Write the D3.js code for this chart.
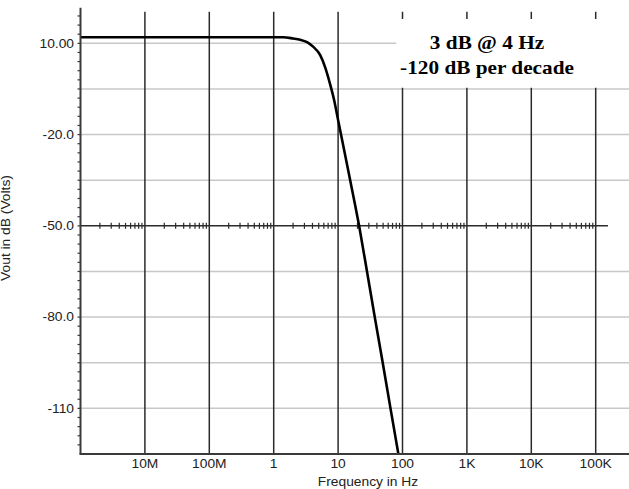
<!DOCTYPE html>
<html>
<head>
<meta charset="utf-8">
<script src="https://cdn.jsdelivr.net/npm/d3@7"></script>
<style>
  body { margin: 0; background: #fff; }
  text { font-family: "Liberation Sans", Arial, sans-serif; }
</style>
</head>
<body>
<div id="chart"></div>
<script>
// response curve: frequency (Hz) and Vout (dB)
const freqHz = [0.001, 1, 1.4, 2.0, 2.57, 3.3, 4.09, 5.25, 6.28, 7.51, 8.67, 10.0, 11.1, 15.4, 21.2, 28.1, 37.1, 49.3, 65.1, 86.3];
const voutDb = [12, 12, 12, 11.6, 11.2, 10.4, 8.9, 6.2, 2.2, -3.4, -8.6, -15.2, -20, -35, -50, -65, -80, -95, -110, -125];

// axis ticks and labels
const decadeTicks = [0.01, 0.1, 1, 10, 100, 1000, 10000, 100000];
const decadeLabels = ['10M', '100M', '1', '10', '100', '1K', '10K', '100K'];
const gridDb = [10, -5, -20, -35, -50, -65, -80, -95, -110];
const labelDb = [10, -20, -50, -80, -110];
const labelText = ['10.00', '-20.0', '-50.0', '-80.0', '-110'];
const refDb = -50;
const annotation = ['3 dB @ 4 Hz', '-120 dB per decade'];

const width = 629, height = 489;
const sx = 1.15; // the picture's text is a bit wide

// x is log frequency, y is dB
const x = d3.scaleLog().domain([0.001, 100000]).range([80.5, 595.7]);
const y = d3.scaleLinear().domain([-125, 20.4]).range([454, 11.7]);

const svg = d3.select('#chart').append('svg')
    .attr('width', width)
    .attr('height', height);

// light horizontal grid
svg.append('g').selectAll('line')
    .data(gridDb.filter(d => d !== refDb))
    .join('line')
    .attr('x1', x(0.001)).attr('x2', width)
    .attr('y1', d => y(d)).attr('y2', d => y(d))
    .attr('stroke', '#c8c8c8')
    .attr('stroke-width', 1.5);

// dark vertical decade lines
svg.append('g').selectAll('line')
    .data(decadeTicks)
    .join('line')
    .attr('x1', d => x(d)).attr('x2', d => x(d))
    .attr('y1', y(20.4)).attr('y2', y(-125))
    .attr('stroke', '#2b2b2b')
    .attr('stroke-width', 1.5);

// -50 dB reference line with log minor ticks
const refEnd = 155000;
svg.append('line')
    .attr('x1', x(0.001)).attr('x2', x(refEnd))
    .attr('y1', y(refDb)).attr('y2', y(refDb))
    .attr('stroke', '#2b2b2b')
    .attr('stroke-width', 1.5);

const minor = [];
d3.range(-3, 6).forEach(p => d3.range(2, 10).forEach(m => {
    const f = m * Math.pow(10, p);
    if (f < refEnd) minor.push(f);
}));
svg.append('g').selectAll('line')
    .data(minor)
    .join('line')
    .attr('x1', d => x(d)).attr('x2', d => x(d))
    .attr('y1', y(refDb) - 3).attr('y2', y(refDb) + 3)
    .attr('stroke', '#2b2b2b')
    .attr('stroke-width', 1.2);

// the response curve
svg.append('clipPath').attr('id', 'plot')
    .append('rect')
    .attr('x', x(0.001)).attr('y', y(20.4))
    .attr('width', width - x(0.001)).attr('height', y(-125) - y(20.4));

svg.append('path')
    .datum(freqHz.map((f, i) => [f, voutDb[i]]))
    .attr('clip-path', 'url(#plot)')
    .attr('fill', 'none')
    .attr('stroke', '#000')
    .attr('stroke-width', 2.6)
    .attr('stroke-linejoin', 'round')
    .attr('d', d3.line()
        .x(d => x(d[0]))
        .y(d => y(d[1]))
        .curve(d3.curveMonotoneX));

// white box behind the annotation
svg.append('rect')
    .attr('x', x(80)).attr('y', y(18))
    .attr('width', width - x(80))
    .attr('height', y(-4.6) - y(18))
    .attr('fill', '#fff');

svg.append('g').selectAll('text')
    .data(annotation)
    .join('text')
    .attr('transform', (d, i) => `translate(487, ${48.5 + i * 25}) scale(${sx},1)`)
    .attr('text-anchor', 'middle')
    .style('font-family', '"Liberation Serif", "Times New Roman", serif')
    .style('font-weight', 'bold')
    .style('font-size', '18.5px')
    .attr('fill', '#000')
    .text(d => d);

// left axis with small 3 dB ticks
svg.append('line')
    .attr('x1', x(0.001)).attr('x2', x(0.001))
    .attr('y1', y(20.4) - 4).attr('y2', y(-125))
    .attr('stroke', '#3a3a3a')
    .attr('stroke-width', 2);

svg.append('g').selectAll('line')
    .data(d3.range(19, -125, -3))
    .join('line')
    .attr('x1', x(0.001) - 3).attr('x2', x(0.001))
    .attr('y1', d => y(d)).attr('y2', d => y(d))
    .attr('stroke', '#3a3a3a')
    .attr('stroke-width', 1.2);

// bottom axis
svg.append('line')
    .attr('x1', x(0.001) - 1).attr('x2', width)
    .attr('y1', y(-125)).attr('y2', y(-125))
    .attr('stroke', '#3a3a3a')
    .attr('stroke-width', 2);

// y labels
svg.append('g').selectAll('text')
    .data(labelDb)
    .join('text')
    .attr('transform', d => `translate(74, ${y(d) + 4.3}) scale(${sx},1)`)
    .attr('text-anchor', 'end')
    .style('font-size', '12px')
    .attr('fill', '#222')
    .text((d, i) => labelText[i]);

// x labels
svg.append('g').selectAll('text')
    .data(decadeTicks)
    .join('text')
    .attr('transform', d => `translate(${x(d)}, 468) scale(${sx},1)`)
    .attr('text-anchor', 'middle')
    .style('font-size', '12px')
    .attr('fill', '#222')
    .text((d, i) => decadeLabels[i]);

// axis titles
svg.append('text')
    .attr('transform', `translate(368, 486) scale(${sx},1)`)
    .attr('text-anchor', 'middle')
    .style('font-size', '12px')
    .attr('fill', '#222')
    .text('Frequency in Hz');

svg.append('text')
    .attr('transform', `translate(10, 228) rotate(-90) scale(${sx},1)`)
    .attr('text-anchor', 'middle')
    .style('font-size', '12px')
    .attr('fill', '#222')
    .text('Vout in dB (Volts)');
</script>
</body>
</html>
